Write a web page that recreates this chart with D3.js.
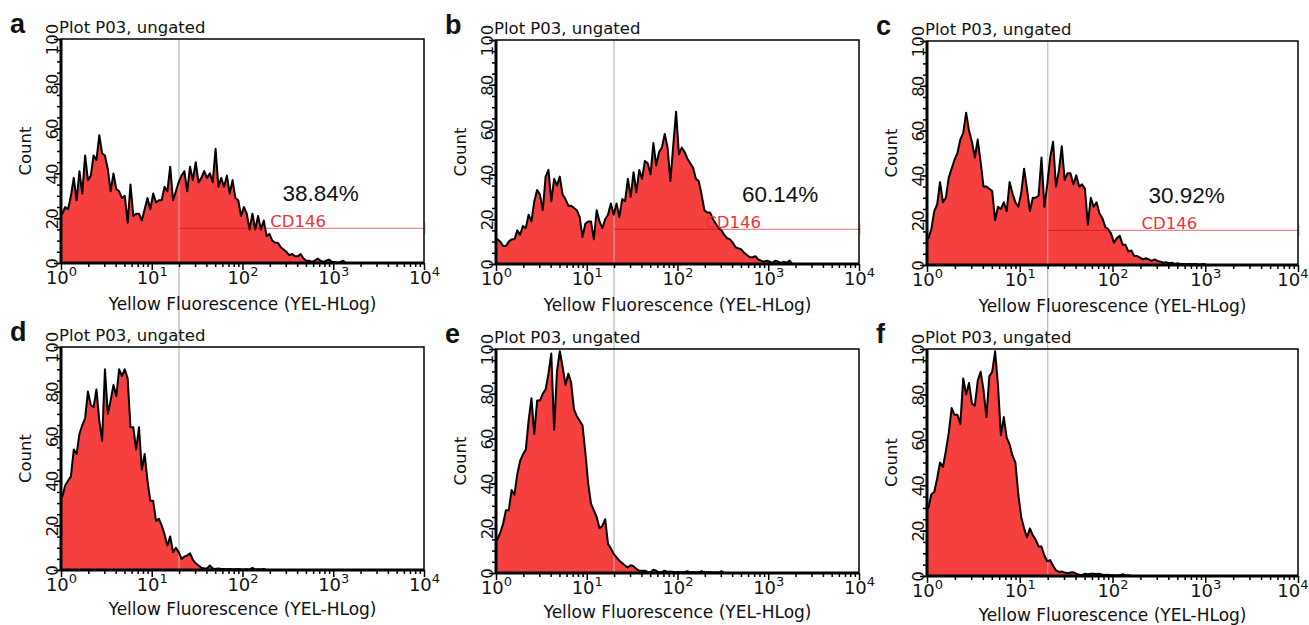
<!DOCTYPE html>
<html>
<head>
<meta charset="utf-8">
<script src="https://cdn.jsdelivr.net/npm/d3@7"></script>
<style>
  body { margin: 0; background: #fff; }
  text { font-family: "DejaVu Sans", Verdana, sans-serif; }
</style>
</head>
<body>
<svg id="fig" width="1309" height="625"></svg>
<script>
/* ===================== data ===================== */
// histogram channels: 32 bins per decade, starting at 10^0
var binsPerDecade = 32;

var countsA = [22,25,24,30,38,28,41,31,48,37, 39,48,46,57,49,48,42,32,40,33,
  32,29,30,18,35,21,22,22,19,24, 29,24,31,27,28,28,34,32,43,28,
  32,36,39,41,32,43,37,45,36,38, 41,38,40,36,51,34,38,34,39,31,
  37,29,28,21,25,22,15,22,15,21, 15,19,12,13,10,9,9,7,6,5,
  3.5,4,3,3,4,2,1,1,0.5,1, 2,1,0.5,1,1.5,0.5,0.5,0,0.5,1, 0];

var countsB = [11,10,8,8,10,11,11,15,13,17, 16,22,19,28,33,31,24,39,42,28,
  38,35,39,31,29,26,26,25,24,21, 12,18,19,19,11,24,19,16,20,22,
  27,22,27,21,29,28,38,30,41,32, 42,38,46,45,40,54,44,50,52,58,
  52,37,53,68,49,52,50,47,45,43, 38,37,31,24,23,23,20,18,16,15,
  13,11.5,11,9.5,7.5,7,6.5,5,4,3, 3,3.5,2,1.5,1,1.5,1,0.5,1.5,1,
  0.5,1,0.5,1.5,0];

var countsC = [12,16,24,27,37,28,30,39,43,47, 50,56,59,68,60,55,48,56,46,35,
  35,34,33,20,26,25,28,24,37,32, 28,26,32,43,34,24,30,30,31,48,
  26,36,48,55,35,42,53,38,41,41, 36,40,35,36,34,18,30,26,28,23,
  21,17,16,14,10,12,13,9,9,6, 6.5,4,4,3.3,2.5,3,2.5,1.8,2.5,1.8,
  1.5,1,1.2,0.8,1,0.5,0.8,0.5,0.5,0.3, 0.5,0.3,0.5,0.2,0.3,0.5,0];

var countsD = [33,38,40,42,54,52,61,65,68,80, 74,73,81,67,58,90,70,76,83,78,
  90,87,90,86,64,64,54,64,45,52, 40,31,31,22,23,20,16,11,15,8,
  10,8,5,6,6.5,7.5,4.5,3,2,1, 0.7,0.7,2,0.7,0.5,0.7,0.5,0.5,0.3,0.5,
  0.3,0.3,0.5,0.3,0.2,0.3,0.2,1,0.2,0.3, 0.2,0.5,0];

var countsE = [15,18,22,28,28,37,35,44,50,53, 55,68,78,62,77,77,80,82,89,98,
  64,90,99,92,84,89,85,73,70,68, 66,54,40,31,28,25,20,21,24,13,
  11,8.5,7,5.5,4.5,3.3,2.5,3.5,3,1.8, 1,1,1,0.5,0.3,1.5,1,0.3,0.5,1,
  0.5,0.7,0.5,0.3,0.5,0.3,0.5,0.8,0.3,0.5, 0.3,0.3,0.8,0.3,0.3,0.5,0.2,0.3,0.2,0.8,
  0];

var countsF = [30,36,37,43,50,48,55,63,74,71, 71,67,87,80,85,76,75,86,90,82,
  70,88,90,99,84,62,70,61,58,53, 50,36,26,21,17,21,18,16,13,13,
  9,6.5,7,4.5,2.5,1.8,2,1.5,1.2,1.5, 1.6,1,0.6,0.4,1,0.8,1,1,0.9,1,
  0.5,0.4,0.5,0.3,0.3,0.2,0.3,0.8,0.2,0.3, 0];

var seriesList = [countsA, countsB, countsC, countsD, countsE, countsF];
var panelLetters = ["a", "b", "c", "d", "e", "f"];
var plotTitle = "Plot P03, ungated";
var xTitle = "Yellow Fluorescence (YEL-HLog)";
var yTitle = "Count";

var xTicks = [1, 10, 100, 1000, 10000];
var yTicks = [0, 20, 40, 60, 80, 100];

// CD146 gate (top row only)
var gateStart = 20;
var gateCount = 15.5;
var gateLabel = "CD146";
var gateLabelAt = 410;
var percentLabels = ["38.84%", "60.14%", "30.92%"];
var percentAt = [725, 1350, 630];
var percentCount = 27.5;

/* ===================== layout ===================== */
var panels = [
  {left: 61,  top: 39,  width: 363, height: 224},
  {left: 496, top: 40,  width: 363, height: 224},
  {left: 927, top: 41,  width: 371, height: 224},
  {left: 61,  top: 347, width: 363, height: 223},
  {left: 496, top: 349, width: 363, height: 224},
  {left: 927, top: 349, width: 371, height: 227}
];

var fillCol = "#f5403f";
var svgWidth = 1309;
var svg = d3.select("#fig");

function makeX(p) {
  return d3.scaleLog().domain([1, 10000]).range([0, p.width]);
}
function makeY(p) {
  return d3.scaleLinear().domain([0, 100]).range([p.height, 0]);
}

// gray threshold line at 20, running down each column through both rows
[0, 1, 2].forEach(function (c) {
  var top = panels[c], bottom = panels[c + 3];
  var x = makeX(top);
  svg.append("line")
    .attr("class", "thresh")
    .attr("x1", top.left + x(gateStart)).attr("x2", top.left + x(gateStart))
    .attr("y1", top.top).attr("y2", bottom.top + bottom.height)
    .attr("stroke", "#b4b4b4").attr("stroke-width", 1.2);
});

panels.forEach(function (p, k) {
  var x = makeX(p);
  var y = makeY(p);
  var counts = seriesList[k];

  var g = svg.append("g").attr("transform", "translate(" + p.left + "," + p.top + ")");

  g.append("clipPath").attr("id", "clip" + k)
    .append("rect").attr("width", p.width).attr("height", p.height);

  // histogram points at channel centres
  var pts = [{x: 1, y: counts[0]}];
  counts.forEach(function (c, i) {
    pts.push({x: Math.pow(10, (i + 0.5) / binsPerDecade), y: c});
  });

  var area = d3.area()
    .x(function (d) { return x(d.x); })
    .y0(y(0))
    .y1(function (d) { return y(d.y); });
  var line = d3.line()
    .x(function (d) { return x(d.x); })
    .y(function (d) { return y(d.y); });

  var hist = g.append("g").attr("clip-path", "url(#clip" + k + ")");
  hist.append("path").datum(pts)
    .attr("d", area)
    .attr("fill", fillCol);
  // threshold line shows faintly through the fill
  hist.append("line")
    .attr("x1", x(gateStart)).attr("x2", x(gateStart))
    .attr("y1", 0).attr("y2", p.height)
    .attr("stroke", "#d8d8d8").attr("stroke-opacity", 0.6).attr("stroke-width", 1.2);
  hist.append("path").datum(pts)
    .attr("d", line)
    .attr("fill", "none")
    .attr("stroke", "#000")
    .attr("stroke-width", 2)
    .attr("stroke-linejoin", "round");

  // gate marker (top row)
  if (k < 3) {
    var gy = y(gateCount);
    g.append("line")
      .attr("x1", x(gateStart)).attr("x2", x(10000) + 1)
      .attr("y1", gy).attr("y2", gy)
      .attr("stroke", "#c80000").attr("stroke-opacity", 0.45).attr("stroke-width", 1.2);
    g.append("line")
      .attr("x1", x(10000) + 1).attr("x2", x(10000) + 1)
      .attr("y1", gy - 6).attr("y2", gy + 6)
      .attr("stroke", "#c80000").attr("stroke-opacity", 0.3).attr("stroke-width", 1.2);
    g.append("text")
      .attr("x", x(gateLabelAt)).attr("y", gy - 1)
      .attr("text-anchor", "middle")
      .attr("fill", "#e8353a")
      .style("font-size", "16.5px")
      .text(gateLabel);
    g.append("text")
      .attr("x", x(percentAt[k])).attr("y", y(percentCount))
      .attr("text-anchor", "middle")
      .attr("fill", "#111")
      .style("font-family", "'Liberation Sans', Arial, sans-serif")
      .style("font-size", "22.5px")
      .text(percentLabels[k]);
  }

  // frame
  g.append("rect")
    .attr("width", p.width).attr("height", p.height)
    .attr("fill", "none").attr("stroke", "#000").attr("stroke-width", 1.5);
  g.append("line").attr("x1", 0).attr("x2", 0).attr("y1", 0).attr("y2", p.height)
    .attr("stroke", "#000").attr("stroke-width", 3);
  g.append("line").attr("x1", 0).attr("x2", p.width).attr("y1", p.height).attr("y2", p.height)
    .attr("stroke", "#000").attr("stroke-width", 3);

  // y axis: minor ticks every 5, major every 20
  var yMinor = g.append("g").call(d3.axisLeft(y).tickValues(d3.range(0, 101, 5)).tickSize(4).tickFormat(""));
  var yMajor = g.append("g").call(d3.axisLeft(y).tickValues(yTicks).tickSize(7).tickFormat(""));
  [yMinor, yMajor].forEach(function (ax) {
    ax.select(".domain").remove();
    ax.selectAll(".tick line").attr("stroke", "#000").attr("stroke-width", 1.5);
  });
  yMajor.selectAll(".tick").append("text")
    .attr("transform", "rotate(-90)")
    .attr("x", 0).attr("y", -3)
    .attr("text-anchor", "middle")
    .attr("fill", "#111")
    .style("font-size", "16.5px")
    .text(function (d) { return d; });

  // x axis: log ticks
  var minorX = [];
  for (var e = 0; e < 4; e++) {
    for (var m = 2; m < 10; m++) minorX.push(m * Math.pow(10, e));
  }
  var xMinor = g.append("g").attr("transform", "translate(0," + p.height + ")")
    .call(d3.axisBottom(x).tickValues(minorX).tickSize(4).tickFormat(""));
  var xMajor = g.append("g").attr("transform", "translate(0," + p.height + ")")
    .call(d3.axisBottom(x).tickValues(xTicks).tickSize(7).tickFormat(""));
  [xMinor, xMajor].forEach(function (ax) {
    ax.select(".domain").remove();
    ax.selectAll(".tick line").attr("stroke", "#000").attr("stroke-width", 1.5);
  });
  var lab = xMajor.selectAll(".tick").append("text")
    .attr("y", 21)
    .attr("text-anchor", function (d) {
      // keep the last label inside the page
      return (p.left + x(d) + 18 > svgWidth) ? "end" : "middle";
    })
    .attr("x", function (d) {
      return (p.left + x(d) + 18 > svgWidth) ? (svgWidth - p.left - x(d) - 1) : 0;
    })
    .attr("fill", "#111")
    .style("font-size", "18px");
  lab.append("tspan").text("10");
  lab.append("tspan").attr("dy", -8).style("font-size", "13px")
    .text(function (d) { return Math.round(Math.log10(d)); });

  // titles
  g.append("text")
    .attr("x", p.width / 2).attr("y", p.height + (k < 3 ? 46.5 : 44.5))
    .attr("text-anchor", "middle").attr("fill", "#111")
    .style("font-size", "17px")
    .text(xTitle);
  g.append("text")
    .attr("transform", "translate(" + (-30) + "," + (p.height / 2) + ") rotate(-90)")
    .attr("text-anchor", "middle").attr("fill", "#111")
    .style("font-size", "16.5px")
    .text(yTitle);
  g.append("text")
    .attr("x", -2).attr("y", -6)
    .attr("fill", "#111")
    .style("font-size", "16.5px")
    .text(plotTitle);
  g.append("text")
    .attr("x", -51).attr("y", -6)
    .attr("fill", "#111")
    .style("font-family", "'Liberation Sans', Arial, sans-serif")
    .style("font-weight", "bold")
    .style("font-size", "27px")
    .text(panelLetters[k]);
});
</script>
</body>
</html>
